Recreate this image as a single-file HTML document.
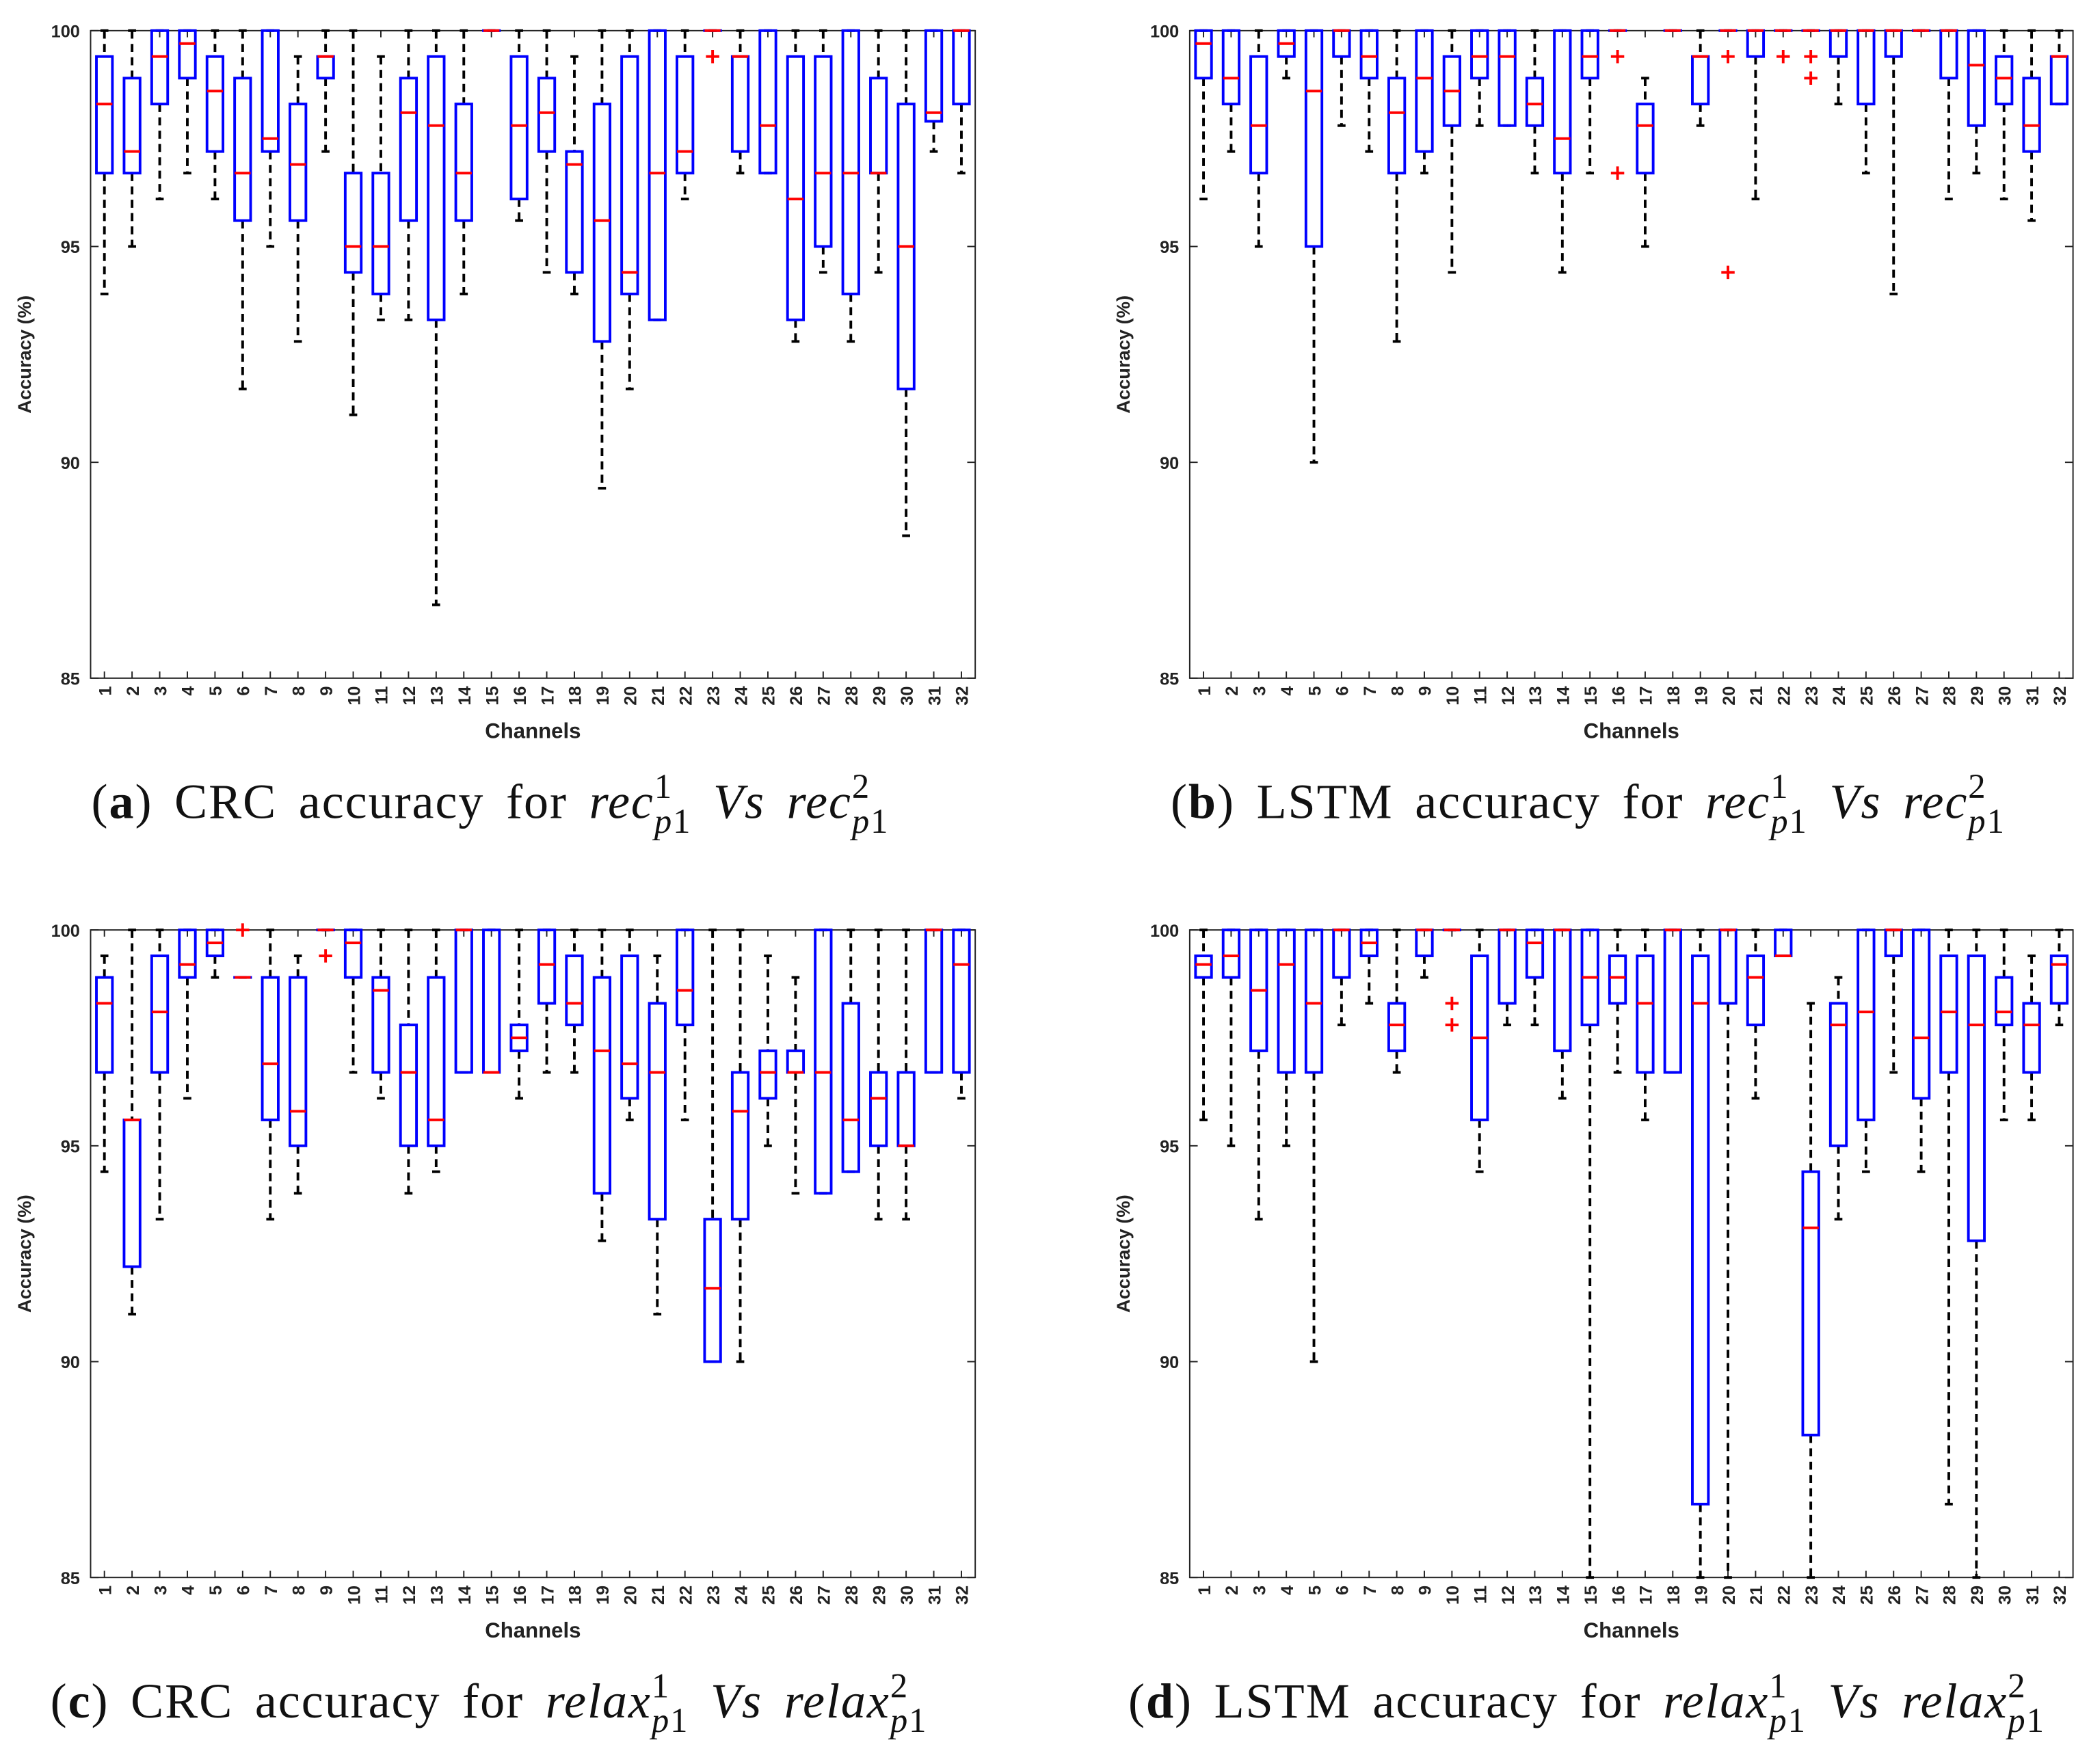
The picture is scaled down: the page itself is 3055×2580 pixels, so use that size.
<!DOCTYPE html>
<html><head><meta charset="utf-8"><style>
html,body{margin:0;padding:0;background:#fff;}
svg{display:block;}
.tk{font-family:"Liberation Sans",sans-serif;font-weight:bold;font-size:13px;fill:#222;}
.cap{font-family:"Liberation Serif",serif;font-size:37px;fill:#111;letter-spacing:1px;word-spacing:6px;}
</style></head><body>
<svg id="chart" width="3055" height="2580" viewBox="0 0 1568 1324" preserveAspectRatio="none" xmlns="http://www.w3.org/2000/svg"></svg>
<script>
const channels = Array.from({length:32},(_,i)=>String(i+1));
const yTicks = [100,95,90,85];

const aLo  =[93.9,95,96.1,96.7,96.1,91.7,95,92.8,97.2,91.1,93.3,93.3,86.7,93.9,100,95.6,94.4,93.9,89.4,91.7,93.3,96.1,100,96.7,96.7,92.8,94.4,92.8,94.4,88.3,97.2,96.7];
const aQ1  =[96.7,96.7,98.3,98.9,97.2,95.6,97.2,95.6,98.9,94.4,93.9,95.6,93.3,95.6,100,96.1,97.2,94.4,92.8,93.9,93.3,96.7,100,97.2,96.7,93.3,95,93.9,96.7,91.7,97.9,98.3];
const aMed =[98.3,97.2,99.4,99.7,98.6,96.7,97.5,96.9,99.4,95,95,98.1,97.8,96.7,100,97.8,98.1,96.9,95.6,94.4,96.7,97.2,100,99.4,97.8,96.1,96.7,96.7,96.7,95,98.1,100];
const aQ3  =[99.4,98.9,100,100,99.4,98.9,100,98.3,99.4,96.7,96.7,98.9,99.4,98.3,100,99.4,98.9,97.2,98.3,99.4,100,99.4,100,99.4,100,99.4,99.4,100,98.9,98.3,100,100];
const aHi  =[100,100,100,100,100,100,100,99.4,100,100,99.4,100,100,100,100,100,100,99.4,100,100,100,100,100,100,100,100,100,100,100,100,100,100];
const aOutCh=[23]; const aOutVal=[99.4];

const bLo  =[96.1,97.2,95,98.9,90,97.8,97.2,92.8,96.7,94.4,97.8,97.8,96.7,94.4,96.7,100,95,100,97.8,100,96.1,100,100,98.3,96.7,93.9,100,96.1,96.7,96.1,95.6,98.3];
const bQ1  =[98.9,98.3,96.7,99.4,95,99.4,98.9,96.7,97.2,97.8,98.9,97.8,97.8,96.7,98.9,100,96.7,100,98.3,100,99.4,100,100,99.4,98.3,99.4,100,98.9,97.8,98.3,97.2,98.3];
const bMed =[99.7,98.9,97.8,99.7,98.6,100,99.4,98.1,98.9,98.6,99.4,99.4,98.3,97.5,99.4,100,97.8,100,99.4,100,100,100,100,100,100,100,100,100,99.2,98.9,97.8,99.4];
const bQ3  =[100,100,99.4,100,100,100,100,98.9,100,99.4,100,100,98.9,100,100,100,98.3,100,99.4,100,100,100,100,100,100,100,100,100,100,99.4,98.9,99.4];
const bHi  =[100,100,100,100,100,100,100,100,100,100,100,100,100,100,100,100,98.9,100,100,100,100,100,100,100,100,100,100,100,100,100,100,100];
const bOutCh=[16,16,20,20,22,23,23]; const bOutVal=[99.4,96.7,99.4,94.4,99.4,99.4,98.9];

const cLo  =[94.4,91.1,93.3,96.1,98.9,98.9,93.3,93.9,100,96.7,96.1,93.9,94.4,96.7,96.7,96.1,96.7,96.7,92.8,95.6,91.1,95.6,90,90,95,93.9,93.9,94.4,93.3,93.3,96.7,96.1];
const cQ1  =[96.7,92.2,96.7,98.9,99.4,98.9,95.6,95,100,98.9,96.7,95,95,96.7,96.7,97.2,98.3,97.8,93.9,96.1,93.3,97.8,90,93.3,96.1,96.7,93.9,94.4,95,95,96.7,96.7];
const cMed =[98.3,95.6,98.1,99.2,99.7,98.9,96.9,95.8,100,99.7,98.6,96.7,95.6,100,96.7,97.5,99.2,98.3,97.2,96.9,96.7,98.6,91.7,95.8,96.7,96.7,96.7,95.6,96.1,95,100,99.2];
const cQ3  =[98.9,95.6,99.4,100,100,98.9,98.9,98.9,100,100,98.9,97.8,98.9,100,100,97.8,100,99.4,98.9,99.4,98.3,100,93.3,96.7,97.2,97.2,100,98.3,96.7,96.7,100,100];
const cHi  =[99.4,100,100,100,100,98.9,100,99.4,100,100,100,100,100,100,100,100,100,100,100,100,99.4,100,100,100,99.4,98.9,100,100,100,100,100,100];
const cOutCh=[6,9]; const cOutVal=[100,99.4];

const dLo  =[95.6,95,93.3,95,90,97.8,98.3,96.7,98.9,100,94.4,97.8,97.8,96.1,85,96.7,95.6,96.7,85,85,96.1,99.4,85,93.3,94.4,96.7,94.4,86.7,85,95.6,95.6,97.8];
const dQ1  =[98.9,98.9,97.2,96.7,96.7,98.9,99.4,97.2,99.4,100,95.6,98.3,98.9,97.2,97.8,98.3,96.7,96.7,86.7,98.3,97.8,99.4,88.3,95,95.6,99.4,96.1,96.7,92.8,97.8,96.7,98.3];
const dMed =[99.2,99.4,98.6,99.2,98.3,100,99.7,97.8,100,100,97.5,100,99.7,100,98.9,98.9,98.3,100,98.3,100,98.9,99.4,93.1,97.8,98.1,100,97.5,98.1,97.8,98.1,97.8,99.2];
const dQ3  =[99.4,100,100,100,100,100,100,98.3,100,100,99.4,100,100,100,100,99.4,99.4,100,99.4,100,99.4,100,94.4,98.3,100,100,100,99.4,99.4,98.9,98.3,99.4];
const dHi  =[100,100,100,100,100,100,100,100,100,100,100,100,100,100,100,100,100,100,100,100,100,100,98.3,98.9,100,100,100,100,100,100,99.4,100];
const dOutCh=[10,10]; const dOutVal=[98.3,97.8];

const NS="http://www.w3.org/2000/svg";
const svg=document.getElementById('chart');
function mk(tag,attrs,parent){const e=document.createElementNS(NS,tag);for(const k in attrs)e.setAttribute(k,attrs[k]);(parent||svg).appendChild(e);return e;}

function drawPanel(id,x0,x1,yTop,yBot,lo,q1,med,q3,hi,outCh,outVal){
  const g=mk('g',{});
  
  
  const yS=v=>yTop+(100-v)/15*(yBot-yTop);
  const step=(x1-x0)/32;
  const xS=i=>x0+step*(i+0.5);
  const ax=mk('rect',{x:x0,y:yTop,width:x1-x0,height:yBot-yTop,fill:'none',stroke:'#222','stroke-width':1},g);
  
  
  yTicks.forEach(t=>{
    const y=yS(t);
    mk('line',{x1:x0,x2:x0+6,y1:y,y2:y,stroke:'#222','stroke-width':1},g);
    mk('line',{x1:x1,x2:x1-6,y1:y,y2:y,stroke:'#222','stroke-width':1},g);
    const tx=mk('text',{x:x0-8,y:y+5,'text-anchor':'end',class:'tk'},g);
    tx.textContent=t;
    
    
  });
  channels.forEach((c,i)=>{
    const x=xS(i);
    mk('line',{x1:x,x2:x,y1:yBot,y2:yBot-5,stroke:'#222','stroke-width':1},g);
    mk('line',{x1:x,x2:x,y1:yTop,y2:yTop+5,stroke:'#222','stroke-width':1},g);
    const tx=mk('text',{x:0,y:0,class:'tk','text-anchor':'end',transform:`translate(${x+5},${yBot+6}) rotate(-90)`},g);
    tx.textContent=c;
    
    
    const bx=mk('g',{},g);
    
    
    const hw=6,cw=3;
    mk('line',{x1:x,x2:x,y1:yS(hi[i]),y2:yS(q3[i]),stroke:'#000','stroke-width':2,'stroke-dasharray':'6,4'},bx);
    mk('line',{x1:x,x2:x,y1:yS(q1[i]),y2:yS(lo[i]),stroke:'#000','stroke-width':2,'stroke-dasharray':'6,4'},bx);
    mk('line',{x1:x-cw,x2:x+cw,y1:yS(hi[i]),y2:yS(hi[i]),stroke:'#000','stroke-width':2},bx);
    mk('line',{x1:x-cw,x2:x+cw,y1:yS(lo[i]),y2:yS(lo[i]),stroke:'#000','stroke-width':2},bx);
    mk('rect',{x:x-hw,y:yS(q3[i]),width:2*hw,height:Math.max(0.01,yS(q1[i])-yS(q3[i])),fill:'none',stroke:'#0000ff','stroke-width':2},bx);
    mk('line',{x1:x-hw,x2:x+hw,y1:yS(med[i]),y2:yS(med[i]),stroke:'#ff0000','stroke-width':2},bx);
  });
  outCh.forEach((c,k)=>{
    const x=xS(c-1),y=yS(outVal[k]);
    const o=mk('path',{d:`M${x-5},${y}H${x+5}M${x},${y-5}V${y+5}`,stroke:'#ff0000','stroke-width':2},g);
    
    
  });
  const xl=mk('text',{x:(x0+x1)/2,y:yBot+45,'text-anchor':'middle',class:'tk'},g);
  xl.textContent='Channels';xl.style.fontSize='16px';
  
  
  const yl=mk('text',{x:0,y:0,'text-anchor':'middle',class:'tk',transform:`translate(${x0-45},${(yTop+yBot)/2}) rotate(-90)`},g);
  yl.textContent='Accuracy (%)';yl.style.fontSize='14px';
  
  
}
drawPanel('a',68,732,23,509,aLo,aQ1,aMed,aQ3,aHi,aOutCh,aOutVal);
drawPanel('b',893,1556,23,509,bLo,bQ1,bMed,bQ3,bHi,bOutCh,bOutVal);
drawPanel('c',68,732,698,1184,cLo,cQ1,cMed,cQ3,cHi,cOutCh,cOutVal);
drawPanel('d',893,1556,698,1184,dLo,dQ1,dMed,dQ3,dHi,dOutCh,dOutVal);

function caption(id,cx,y,letter,model,v){
  const t=mk('text',{x:cx,y:y,'text-anchor':'middle',class:'cap'});
  
  
  t.innerHTML=`(<tspan font-weight="bold">${letter}</tspan>) ${model} accuracy for <tspan font-style="italic">${v}</tspan><tspan font-size="26" dy="-15">1</tspan><tspan font-size="26" font-style="italic" dx="-14" dy="26">p</tspan><tspan font-size="26" dy="0">1</tspan><tspan dy="-11" font-style="italic"> Vs ${v}</tspan><tspan font-size="26" dy="-15">2</tspan><tspan font-size="26" font-style="italic" dx="-14" dy="26">p</tspan><tspan font-size="26">1</tspan>`;
}
caption('a',368,614,'a','CRC','rec');
caption('b',1192,614,'b','LSTM','rec');
caption('c',367,1289,'c','CRC','relax');
caption('d',1191,1289,'d','LSTM','relax');
</script>
</body></html>
